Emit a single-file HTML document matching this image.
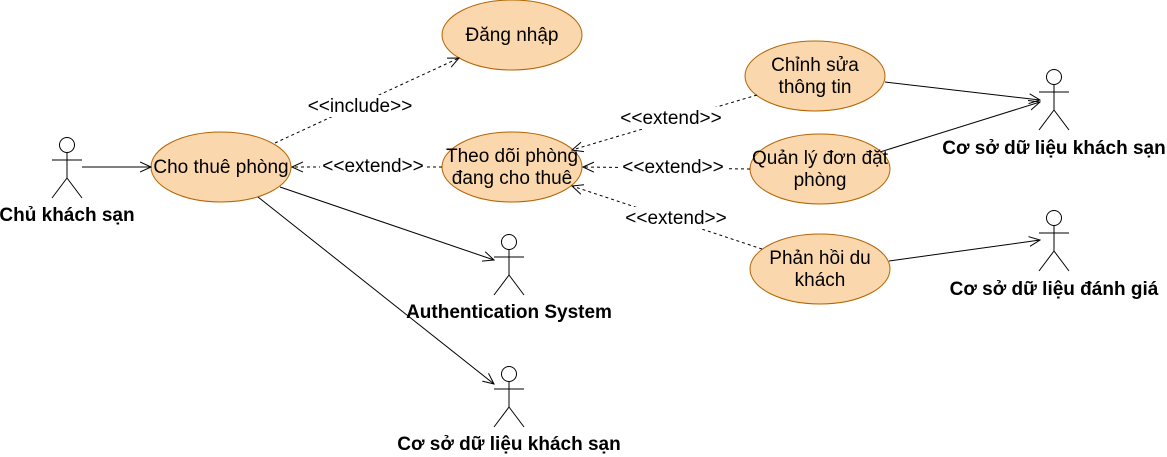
<!DOCTYPE html>
<html><head><meta charset="utf-8"><style>
html,body{margin:0;padding:0;background:#fff;}
svg{display:block;}
text{font-family:"Liberation Sans",sans-serif;}
</style></head><body>
<svg width="1167" height="457" viewBox="0 0 1167 457" xmlns="http://www.w3.org/2000/svg">
<defs>
<marker id="a" viewBox="0 0 12 12" refX="11" refY="6" markerWidth="12" markerHeight="12" orient="auto" markerUnits="userSpaceOnUse">
<path d="M0,1 L11,6 L0,11" fill="none" stroke="#000" stroke-width="1"/></marker>
</defs>
<g fill="#fad7ac" stroke="#b46504" stroke-width="1">
<ellipse cx="512" cy="35" rx="70" ry="35"/>
<ellipse cx="221" cy="167" rx="70" ry="35"/>
<ellipse cx="512" cy="167" rx="70" ry="35"/>
<ellipse cx="815" cy="76" rx="70" ry="35"/>
<ellipse cx="820" cy="169" rx="70" ry="35"/>
<ellipse cx="820" cy="269" rx="70" ry="35"/>
</g>
<g font-size="19" text-anchor="middle" fill="#000">
<text x="512" y="41">Đăng nhập</text>
<text x="221" y="173">Cho thuê phòng</text>
<text x="512" y="162">Theo dõi phòng</text>
<text x="512" y="184">đang cho thuê</text>
<text x="815" y="71">Chỉnh sửa</text>
<text x="815" y="93">thông tin</text>
<text x="820" y="164">Quản lý đơn đặt</text>
<text x="820" y="186">phòng</text>
<text x="820" y="264">Phản hồi du</text>
<text x="820" y="286">khách</text>
</g>
<g stroke="#000" stroke-width="1" fill="none">
<line x1="82" y1="167" x2="151" y2="167" marker-end="url(#a)"/>
<line x1="280" y1="187" x2="494" y2="260" marker-end="url(#a)"/>
<line x1="258" y1="197" x2="494" y2="384" marker-end="url(#a)"/>
<line x1="885" y1="82" x2="1040" y2="100" marker-end="url(#a)"/>
<line x1="880" y1="152" x2="1040" y2="102" marker-end="url(#a)"/>
<line x1="889" y1="261" x2="1040" y2="240" marker-end="url(#a)"/>
<g stroke-dasharray="3,3">
<line x1="275" y1="143" x2="459" y2="58" marker-end="url(#a)"/>
<line x1="442" y1="167" x2="292" y2="167" marker-end="url(#a)"/>
<line x1="757" y1="95" x2="572" y2="150" marker-end="url(#a)"/>
<line x1="750" y1="169" x2="583" y2="167" marker-end="url(#a)"/>
<line x1="762" y1="249" x2="572" y2="186" marker-end="url(#a)"/>
</g>
</g>
<g font-size="19" text-anchor="middle">
<rect x="306" y="95" width="108" height="22" fill="#fff"/><text x="360" y="112">&lt;&lt;include&gt;&gt;</text>
<rect x="320" y="155" width="106" height="22" fill="#fff"/><text x="373" y="172">&lt;&lt;extend&gt;&gt;</text>
<rect x="618" y="107" width="106" height="22" fill="#fff"/><text x="671" y="124">&lt;&lt;extend&gt;&gt;</text>
<rect x="620" y="156" width="106" height="22" fill="#fff"/><text x="673" y="173">&lt;&lt;extend&gt;&gt;</text>
<rect x="623" y="207" width="106" height="22" fill="#fff"/><text x="676" y="224">&lt;&lt;extend&gt;&gt;</text>
</g>
<g stroke="#000" stroke-width="1" fill="#fff">
<g transform="translate(67,138)"><circle cx="0" cy="7" r="7.5"/><path d="M0,15 V40 M-15,22 H15 M0,40 L-15,60 M0,40 L15,60" fill="none"/></g>
<g transform="translate(509,235)"><circle cx="0" cy="7" r="7.5"/><path d="M0,15 V40 M-15,22 H15 M0,40 L-15,60 M0,40 L15,60" fill="none"/></g>
<g transform="translate(509,367)"><circle cx="0" cy="7" r="7.5"/><path d="M0,15 V40 M-15,22 H15 M0,40 L-15,60 M0,40 L15,60" fill="none"/></g>
<g transform="translate(1054,70)"><circle cx="0" cy="7" r="7.5"/><path d="M0,15 V40 M-15,22 H15 M0,40 L-15,60 M0,40 L15,60" fill="none"/></g>
<g transform="translate(1054,211)"><circle cx="0" cy="7" r="7.5"/><path d="M0,15 V40 M-15,22 H15 M0,40 L-15,60 M0,40 L15,60" fill="none"/></g>
</g>
<g font-size="19" font-weight="bold" text-anchor="middle">
<text x="67" y="221">Chủ khách sạn</text>
<text x="509" y="318">Authentication System</text>
<text x="509" y="450">Cơ sở dữ liệu khách sạn</text>
<text x="1054" y="154">Cơ sở dữ liệu khách sạn</text>
<text x="1054" y="295">Cơ sở dữ liệu đánh giá</text>
</g>
</svg>
</body></html>
